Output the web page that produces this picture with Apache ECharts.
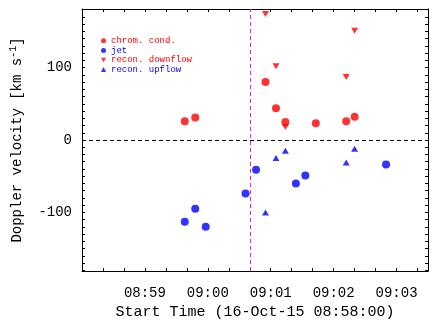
<!DOCTYPE html>
<html>
<head>
<meta charset="utf-8">
<script src="https://cdn.jsdelivr.net/npm/echarts@6/dist/echarts.min.js"></script>
<style>
  html, body { margin: 0; padding: 0; background: #fff; }
  #chart { width: 436px; height: 327px; }
</style>
</head>
<body>
<div id="chart"></div>
<script>
  // seconds after 08:58:00
  const condTime = [98, 108, 175, 185, 194, 223, 252, 260]
  const condVel = [26, 31, 80, 44, 25, 23, 26, 32]
  const jetTime = [98, 108, 118, 156, 166, 204, 213, 290]
  const jetVel = [-113, -95, -120, -74, -41, -60, -49, -34]
  const downTime = [175, 185, 194, 252, 260]
  const downVel = [174, 102, 18, 87, 151]
  const upTime = [175, 185, 194, 252, 260]
  const upVel = [-100, -25, -15, -31, -12]

  const xLabelValues = [60, 120, 180, 240, 300]
  const yLabelValues = [-100, 0, 100]
  const markTime = 160

  const font = "'Courier New', 'Liberation Mono', monospace"
  const xTicks = []
  for (let v = 0; v <= 330; v += 20) xTicks.push(v)
  const yTicks = []
  for (let v = -180; v <= 180; v += 10) yTicks.push(v)

  function fmtTime(v) {
    const m = 8 * 60 + 58 + Math.round(v / 60)
    const hh = String(Math.floor(m / 60)).padStart(2, '0')
    const mm = String(m % 60).padStart(2, '0')
    return hh + ':' + mm
  }

  const pair = (xs, ys) => xs.map((x, i) => [x, ys[i]])

  const axisLine = { show: true, onZero: false, lineStyle: { color: '#000', width: 1 } }
  const tick = vals => ({ show: true, inside: true, length: 3, customValues: vals, lineStyle: { color: '#000' } })

  const chart = echarts.init(document.getElementById('chart'))
  chart.setOption({
    animation: false,
    grid: { left: 78, right: 8, top: 9, bottom: 56 },
    legend: {
      orient: 'vertical',
      left: 96,
      top: 31,
      itemWidth: 5,
      itemHeight: 5,
      itemGap: 0,
      selectedMode: false,
      textStyle: { fontFamily: font, fontSize: 9, lineHeight: 9.6 },
      data: [
        { name: 'chrom. cond.', textStyle: { color: '#ff0000' } },
        { name: 'jet', textStyle: { color: '#0000ff' } },
        { name: 'recon. downflow', textStyle: { color: '#ff0000' } },
        { name: 'recon. upflow', textStyle: { color: '#0000ff' } },
      ],
    },
    xAxis: [
      {
        type: 'value',
        min: 0,
        max: 330,
        name: 'Start Time (16-Oct-15 08:58:00)',
        nameLocation: 'middle',
        nameGap: 34,
        nameTextStyle: { fontFamily: font, fontSize: 15, color: '#000' },
        axisLine,
        axisTick: tick(xTicks),
        axisLabel: {
          customValues: xLabelValues,
          formatter: fmtTime,
          margin: 15,
          fontFamily: font,
          fontSize: 14,
          color: '#000',
        },
        splitLine: { show: false },
      },
      {
        type: 'value',
        position: 'top',
        min: 0,
        max: 330,
        axisLine,
        axisTick: tick(xTicks),
        axisLabel: { show: false },
        splitLine: { show: false },
      },
    ],
    yAxis: [
      {
        type: 'value',
        min: -181,
        max: 181,
        name: 'Doppler velocity [km s{sup|-1}]',
        nameLocation: 'middle',
        nameRotate: 90,
        nameGap: 56,
        nameTextStyle: {
          fontFamily: font,
          fontSize: 14,
          color: '#000',
          rich: { sup: { fontFamily: font, fontSize: 10, verticalAlign: 'top', padding: [0, 0, 8, 0] } },
        },
        axisLine,
        axisTick: tick(yTicks),
        axisLabel: {
          customValues: yLabelValues,
          margin: 10,
          fontFamily: font,
          fontSize: 14,
          color: '#000',
        },
        splitLine: { show: false },
      },
      {
        type: 'value',
        position: 'right',
        min: -181,
        max: 181,
        axisLine,
        axisTick: tick(yTicks),
        axisLabel: { show: false },
        splitLine: { show: false },
      },
    ],
    series: [
      {
        name: 'chrom. cond.',
        type: 'scatter',
        symbol: 'circle',
        symbolSize: 8,
        itemStyle: { color: '#ff0000' },
        data: pair(condTime, condVel),
        markLine: {
          silent: true,
          symbol: 'none',
          label: { show: false },
          animation: false,
          data: [
            { yAxis: 0, lineStyle: { color: '#000', type: [4, 3], width: 1 } },
            { xAxis: markTime, lineStyle: { color: '#e020e0', type: [4, 3], width: 1 } },
          ],
        },
      },
      {
        name: 'jet',
        type: 'scatter',
        symbol: 'circle',
        symbolSize: 8,
        itemStyle: { color: '#0000ff' },
        data: pair(jetTime, jetVel),
      },
      {
        name: 'recon. downflow',
        type: 'scatter',
        // downward triangle
        symbol: 'path://M0,0 L10,0 L5,8.6 Z',
        symbolSize: [7, 6],
        itemStyle: { color: '#ff0000' },
        data: pair(downTime, downVel),
      },
      {
        name: 'recon. upflow',
        type: 'scatter',
        symbol: 'triangle',
        symbolSize: [7, 6],
        itemStyle: { color: '#0000ff' },
        data: pair(upTime, upVel),
      },
    ],
  })
</script>
</body>
</html>
